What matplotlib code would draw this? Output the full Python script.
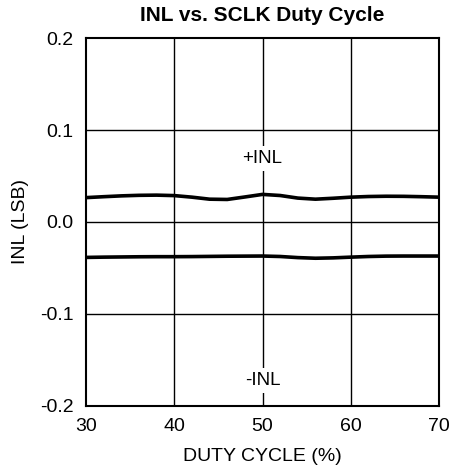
import matplotlib.pyplot as plt

plt.rcParams['font.family'] = ['Liberation Sans', 'DejaVu Sans']

# data
duty = [30, 32, 34, 36, 38, 40, 42, 44, 46, 48, 50, 52, 54, 56, 58, 60, 62, 64, 66, 68, 70]
inl_pos = [0.0265, 0.0275, 0.0284, 0.0290, 0.0292, 0.0287, 0.0270, 0.0248, 0.0245, 0.0272,
           0.0300, 0.0288, 0.0260, 0.0248, 0.0258, 0.0270, 0.0277, 0.0280, 0.0279, 0.0275, 0.0270]
inl_neg = [-0.0385, -0.0382, -0.0380, -0.0378, -0.0377, -0.0377, -0.0376, -0.0374, -0.0372,
           -0.0371, -0.0370, -0.0375, -0.0387, -0.0394, -0.0390, -0.0382, -0.0375, -0.0371,
           -0.0370, -0.0370, -0.0370]
xticks = [30, 40, 50, 60, 70]
yticks = [-0.2, -0.1, 0.0, 0.1, 0.2]

fig = plt.figure(figsize=(4.51, 4.74), dpi=100)
ax = fig.add_axes([0.1907, 0.1435, 0.9734 - 0.1907, 0.9198 - 0.1435])

for x in xticks[1:-1]:
    ax.axvline(x, color='black', lw=1.0, zorder=1)
for y in yticks[1:-1]:
    ax.axhline(y, color='black', lw=1.0, zorder=1)

ax.plot(duty, inl_pos, color='black', lw=2.6, zorder=3, solid_capstyle='butt')
ax.plot(duty, inl_neg, color='black', lw=2.6, zorder=3, solid_capstyle='butt')

ax.text(50, 0.069, '+INL', ha='center', va='center', fontsize=13.5, zorder=4,
        bbox=dict(facecolor='white', edgecolor='none', pad=3))
ax.text(50, -0.172, '-INL', ha='center', va='center', fontsize=13.5, zorder=4,
        bbox=dict(facecolor='white', edgecolor='none', pad=3))

ax.set_xlim(30, 70)
ax.set_ylim(-0.2, 0.2)
ax.set_xticks(xticks)
ax.set_yticks(yticks)
ax.set_yticklabels(['-0.2', '-0.1', '0.0', '0.1', '0.2'])
ax.tick_params(length=0, labelsize=14)
ax.tick_params(axis='x', pad=9)
ax.tick_params(axis='y', pad=9)
for s in ax.spines.values():
    s.set_linewidth(1.5)

ax.set_xlabel('DUTY CYCLE (%)', fontsize=14, labelpad=9)
ax.set_ylabel('INL (LSB)', fontsize=14, labelpad=8)
ax.set_title('INL vs. SCLK Duty Cycle', fontsize=15, fontweight='bold', pad=12)

fig.savefig('out.png', dpi=100)
